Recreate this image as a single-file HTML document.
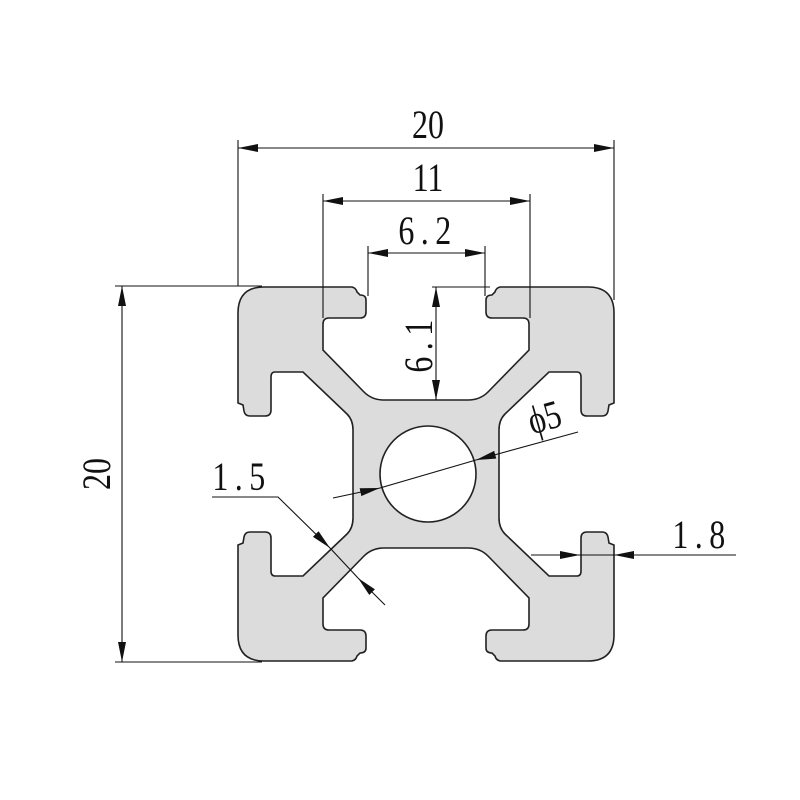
<!DOCTYPE html>
<html><head><style>html,body{margin:0;padding:0;background:#fff}svg{display:block}</style></head>
<body>
<svg width="800" height="800" viewBox="0 0 800 800" xmlns="http://www.w3.org/2000/svg">
<defs>
<marker id="a" viewBox="0 0 20 8" refX="20" refY="4" markerWidth="20" markerHeight="8" orient="auto-start-reverse" markerUnits="userSpaceOnUse"><path d="M0,0 L20,4 L0,8 Z" fill="#111"/></marker>
<path id="qf" d="M426,474 L353,474 L353,430 Q353,420 347,414 L303,372 L275,372 Q271,372 271,377 L271,410 Q271,416 265,416 L250,416 Q245,416 244,411 L243,405 L238,403 L238,313 Q238,287 264,287 L352,287 Q356,288 357,292 L360,295 Q366,295 366,300 L366,312 Q366,318 360,318 L329,318 Q323,318 323,324 L323,350 L364,392 Q372,400 384,400 L426,400 Z"/>
<path id="qs" d="M353,474 L353,430 Q353,420 347,414 L303,372 L275,372 Q271,372 271,377 L271,410 Q271,416 265,416 L250,416 Q245,416 244,411 L243,405 L238,403 L238,313 Q238,287 264,287 L352,287 Q356,288 357,292 L360,295 Q366,295 366,300 L366,312 Q366,318 360,318 L329,318 Q323,318 323,324 L323,350 L364,392 Q372,400 384,400 L426,400"/>
</defs>
<g fill="#dcdcdc" stroke="#dcdcdc" stroke-width="1">
<use href="#qf"/>
<use href="#qf" transform="matrix(-1,0,0,1,852,0)"/>
<use href="#qf" transform="matrix(1,0,0,-1,0,948)"/>
<use href="#qf" transform="matrix(-1,0,0,-1,852,948)"/>
</g>
<g fill="none" stroke="#222" stroke-width="1.6">
<use href="#qs"/>
<use href="#qs" transform="matrix(-1,0,0,1,852,0)"/>
<use href="#qs" transform="matrix(1,0,0,-1,0,948)"/>
<use href="#qs" transform="matrix(-1,0,0,-1,852,948)"/>
</g>
<circle cx="428" cy="474" r="48" fill="#fff" stroke="#222" stroke-width="1.6"/>
<g stroke="#111" stroke-width="1.1" fill="none">
<line x1="238" y1="140" x2="238" y2="286"/><line x1="614" y1="140" x2="614" y2="300"/>
<line x1="238" y1="148" x2="614" y2="148" marker-start="url(#a)" marker-end="url(#a)"/>
<line x1="323" y1="194" x2="323" y2="318"/><line x1="530" y1="194" x2="530" y2="318"/>
<line x1="323" y1="201" x2="530" y2="201" marker-start="url(#a)" marker-end="url(#a)"/>
<line x1="368" y1="246" x2="368" y2="296"/><line x1="485" y1="246" x2="485" y2="296"/>
<line x1="368" y1="253" x2="485" y2="253" marker-start="url(#a)" marker-end="url(#a)"/>
<line x1="432" y1="287" x2="490" y2="287"/>
<line x1="436" y1="287" x2="436" y2="400" marker-start="url(#a)" marker-end="url(#a)"/>
<line x1="115" y1="286" x2="262" y2="286"/><line x1="115" y1="662" x2="262" y2="662"/>
<line x1="122" y1="286" x2="122" y2="662" marker-start="url(#a)" marker-end="url(#a)"/>
<line x1="333" y1="498" x2="380" y2="488" marker-end="url(#a)"/>
<line x1="578" y1="432" x2="476" y2="460" marker-end="url(#a)"/>
<line x1="380" y1="488" x2="476" y2="460"/>
<polyline points="212,497 278,497 330,548" marker-end="url(#a)"/>
<line x1="385" y1="605" x2="358" y2="578" marker-end="url(#a)"/>
<line x1="330" y1="548" x2="358" y2="578"/>
<line x1="531" y1="555" x2="580" y2="555" marker-end="url(#a)"/>
<line x1="736" y1="555" x2="614" y2="555" marker-end="url(#a)"/>
<line x1="580" y1="555" x2="614" y2="555"/>
</g>
<g font-family="Liberation Serif, serif" font-size="40" fill="#111" text-anchor="middle">
<text transform="translate(428,138) scale(0.8,1)">20</text>
<text transform="translate(428,191) scale(0.8,1)">11</text>
<text transform="translate(428,244) scale(0.8,1)" letter-spacing="8">6.2</text>
<text transform="translate(432,343) rotate(-90) scale(0.8,1)" letter-spacing="8">6.1</text>
<text transform="translate(110,474) rotate(-90) scale(0.8,1)">20</text>
<text transform="translate(548,430) rotate(-16) scale(0.8,1)">ϕ5</text>
<text transform="translate(242,490) scale(0.8,1)" letter-spacing="8">1.5</text>
<text transform="translate(702,548) scale(0.8,1)" letter-spacing="8">1.8</text>
</g>
</svg>
</body></html>
